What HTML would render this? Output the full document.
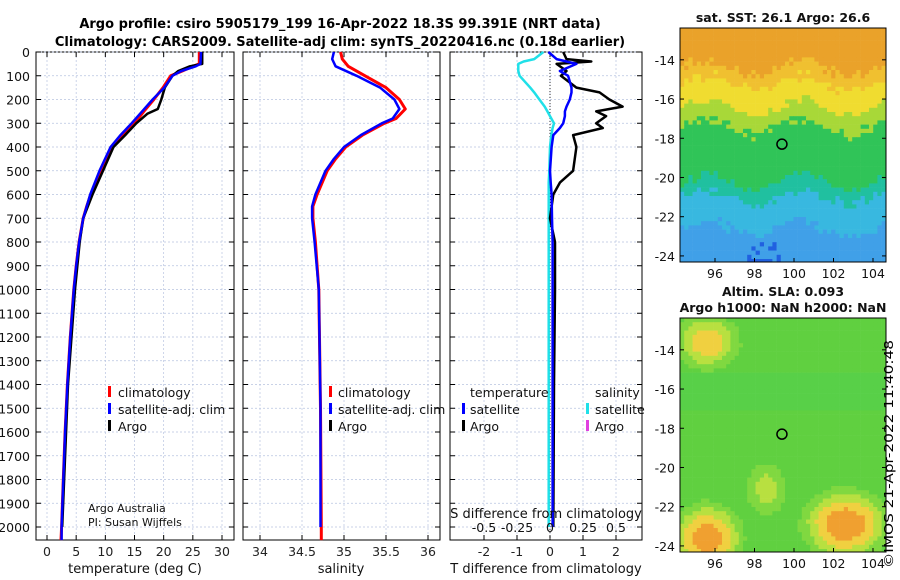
<!DOCTYPE html>
<html><head><meta charset="utf-8"><style>
body{margin:0;background:#fff}
svg{display:block;font-family:"DejaVu Sans","Liberation Sans",sans-serif}
</style></head><body>
<svg id="c" width="900" height="580" viewBox="0 0 900 580">
<defs>
<clipPath id="cp1"><rect x="680" y="28" width="206" height="234"/></clipPath>
<clipPath id="cp2"><rect x="680" y="318" width="206" height="234"/></clipPath>
</defs>
<text x="340" y="28" text-anchor="middle" font-size="13" font-weight="bold">Argo profile: csiro 5905179_199 16-Apr-2022 18.3S 99.391E (NRT data)</text>
<text x="340" y="46" text-anchor="middle" font-size="13" font-weight="bold">Climatology: CARS2009. Satellite-adj clim: synTS_20220416.nc (0.18d earlier)</text>
<g id="g"></g>
<text transform="translate(893,568) rotate(-90)" font-size="12.5" textLength="228" lengthAdjust="spacingAndGlyphs">©IMOS 21-Apr-2022 11:40:48</text>
</svg>
<script>
// ---- data ----
const tDepth=[0,50,60,80,100,150,200,250,300,350,400,500,600,650,700,800,900,1000,1200,1400,1600,1800,2000,2055];
const tClim=[26.1,26.1,25,23.2,21.2,19.9,18.3,16.6,15.0,12.8,11.0,9.2,7.5,6.8,6.2,5.5,5.0,4.6,4.0,3.5,3.1,2.8,2.5,2.4];
const tSat=[26.4,26.3,25.5,23,21.5,20.1,18.1,16.3,14.5,12.6,10.9,9.0,7.4,6.8,6.2,5.5,5.0,4.6,4.0,3.5,3.1,2.8,2.5,2.5];
const argoDepth=[0,50,60,80,100,150,200,240,260,300,350,400,500,600,700,800,1000,1400,2000];
const tArgo=[26.6,26.6,24.5,22.5,21.5,20.2,19.6,19.0,17.2,15.3,13.4,11.4,9.6,7.8,6.2,5.6,4.8,3.6,2.6];
const sDepth=[0,30,60,100,150,200,240,280,300,350,400,450,500,600,650,700,800,1000,1500,2000,2055];
const sClim=[34.96,34.98,35.05,35.25,35.5,35.66,35.73,35.62,35.48,35.22,35.02,34.9,34.8,34.68,34.63,34.63,34.66,34.7,34.72,34.73,34.73];
const sSat=[34.88,34.86,34.9,35.15,35.43,35.6,35.66,35.58,35.45,35.2,35.0,34.88,34.78,34.66,34.62,34.62,34.65,34.7,34.72,34.72,34.72];
const dDepth=[0,30,40,50,80,100,150,170,200,230,250,270,300,320,350,400,500,550,600,700,800,1000,1400,2000];
const dtArgo=[0.4,0.5,1.25,0.2,0.5,0.33,0.8,1.5,1.8,2.2,1.4,1.7,1.4,1.6,0.7,0.8,0.7,0.3,0.1,0.0,0.15,0.15,0.12,0.1];
const dtSat=[-0.05,0.2,0.5,0.8,0.3,0.55,0.65,0.65,0.6,0.5,0.45,0.45,0.4,0.3,0.1,0.05,0.0,0.02,0.05,0.06,0.08,0.08,0.08,0.08];
const dsSat=[-0.05,-0.12,-0.2,-0.24,-0.24,-0.23,-0.15,-0.12,-0.08,-0.04,-0.02,0.0,0.03,0.02,0.01,0.0,-0.005,-0.01,-0.01,-0.01,-0.01,-0.01,-0.01,-0.01];
const tTicks=[0,5,10,15,20,25,30];
const sTicks=[34,34.5,35,35.5,36];
const dtTicks=[-2,-1,0,1,2];
const dsTicks=[-0.5,-0.25,0,0.25,0.5];
const sdLabels=['-0.5','-0.25','0','0.25','0.5'];
const depthTicks=[0,100,200,300,400,500,600,700,800,900,1000,1100,1200,1300,1400,1500,1600,1700,1800,1900,2000];
const latTicks=[-14,-16,-18,-20,-22,-24];
const lonTicks=[96,98,100,102,104];
// ---- helpers ----
const NS='http://www.w3.org/2000/svg',G=document.getElementById('g');
function mk(t,a,p){const e=document.createElementNS(NS,t);for(const k in a)e.setAttribute(k,a[k]);(p||G).appendChild(e);return e;}
const top0=52,bot=540;
const yD=d=>top0+d*(527-52)/2000;
function lin(d0,d1,p0,p1){return v=>p0+(v-d0)*(p1-p0)/(d1-d0);}
function panel(x0,x1,name){
  const r=mk('rect',{x:x0,y:top0,width:x1-x0,height:bot-top0,fill:'#fff',stroke:'#000','stroke-width':1});
  
  
  depthTicks.forEach(d=>{
    const y=yD(d);
    const l=mk('line',{x1:x0,x2:x1,y1:y,y2:y,stroke:'#b8c4e0','stroke-width':0.7,'stroke-dasharray':'2,2'});
    
    
    mk('line',{x1:x0,x2:x0+5,y1:y,y2:y,stroke:'#000'});
    mk('line',{x1:x1-5,x2:x1,y1:y,y2:y,stroke:'#000'});
  });
}
function xticks(x0,x1,ticks,sc,labels,y,name){
  ticks.forEach((v,i)=>{const x=sc(v);
    const l=mk('line',{x1:x,x2:x,y1:top0,y2:bot,stroke:'#b8c4e0','stroke-width':0.7,'stroke-dasharray':'2,2'});
    
    
    mk('line',{x1:x,x2:x,y1:bot,y2:bot-5,stroke:'#000'});mk('line',{x1:x,x2:x,y1:top0,y2:top0+5,stroke:'#000'});
    const t=mk('text',{x:x,y:y,'text-anchor':'middle','font-size':12.5,fill:'#222'});t.textContent=labels?labels[i]:String(v);
    
    
  });
}
function line(xs,ds,sc,col,w,name){
  const pts=xs.map((v,i)=>sc(v).toFixed(1)+','+yD(ds[i]).toFixed(1)).join(' ');
  const p=mk('polyline',{points:pts,fill:'none',stroke:col,'stroke-width':w,'stroke-linejoin':'round'});
  
  
}
function txt(x,y,s,fs,name,anchor){const t=mk('text',{x:x,y:y,'font-size':fs,'text-anchor':anchor||'start',fill:'#111'});t.textContent=s;
  
  return t;}
function legMark(x,y,col,name){const r=mk('rect',{x:x,y:y-10,width:3,height:11,fill:col});
  
  }
// Panel 1 temperature
const xT=lin(0,30,47,222);
panel(36,234,'temperature-panel');
xticks(36,234,tTicks,xT,null,556,'temperature-tick');
depthTicks.forEach(d=>{const t=txt(30,yD(d)+5,String(d),12.5,'depth-tick','end');});
line(tClim,tDepth,xT,'#f00',3,'temperature-climatology-line');
line(tArgo,argoDepth,xT,'#000',2.5,'temperature-argo-line');
line(tSat,tDepth,xT,'#00f',2.5,'temperature-satellite-line');
txt(135,573,'temperature (deg C)',13,'temperature-axis-title','middle');
legMark(108,396,'#f00','legend-climatology-marker');txt(118,397,'climatology',12.5,'legend-climatology');
legMark(108,413,'#00f','legend-satellite-marker');txt(118,414,'satellite-adj. clim',12.5,'legend-satellite');
legMark(108,430,'#000','legend-argo-marker');txt(118,431,'Argo',12.5,'legend-argo');
txt(88,512,'Argo Australia',11,'credit-line-1');txt(88,526,'PI: Susan Wijffels',11,'credit-line-2');
// Panel 2 salinity
const xS=lin(34,36,260,428);
panel(243,440,'salinity-panel');
xticks(243,440,sTicks,xS,['34','34.5','35','35.5','36'],556,'salinity-tick');
line(sClim,sDepth,xS,'#f00',3,'salinity-climatology-line');
line(sSat,sDepth.map(d=>Math.min(d,2000)),xS,'#00f',2.5,'salinity-satellite-line');
txt(341,573,'salinity',13,'salinity-axis-title','middle');
legMark(329,396,'#f00','legend2-climatology-marker');txt(338,397,'climatology',12.5,'legend2-climatology');
legMark(329,413,'#00f','legend2-satellite-marker');txt(338,414,'satellite-adj. clim',12.5,'legend2-satellite');
legMark(329,430,'#000','legend2-argo-marker');txt(338,431,'Argo',12.5,'legend2-argo');
// Panel 3 differences
const xDT=lin(-2,2,484,616), xDS=lin(-0.5,0.5,484,616);
panel(450,642,'difference-panel');
xticks(450,642,dtTicks,xDT,null,556,'t-diff-tick');
const z=mk('line',{x1:xDT(0),x2:xDT(0),y1:top0,y2:bot,stroke:'#333','stroke-width':1,'stroke-dasharray':'1,2'});


line(dsSat,dDepth.map(d=>Math.min(d,2000)),xDS,'#20e0e8',2.5,'s-diff-satellite-line');
line(dtArgo,dDepth,xDT,'#000',2.5,'t-diff-argo-line');
line(dtSat,dDepth,xDT,'#00f',2.5,'t-diff-satellite-line');
dsTicks.forEach((v,i)=>txt(xDS(v),532,sdLabels[i],12.5,'s-diff-tick','middle'));
txt(546,518,'S difference from climatology',13,'s-diff-axis-title','middle');
txt(546,573,'T difference from climatology',13,'t-diff-axis-title','middle');
txt(470,397,'temperature',12.5,'legend3-temperature-header');
legMark(462,413,'#00f','legend3-t-satellite-marker');txt(470,414,'satellite',12.5,'legend3-t-satellite');
legMark(462,430,'#000','legend3-t-argo-marker');txt(470,431,'Argo',12.5,'legend3-t-argo');
txt(595,397,'salinity',12.5,'legend3-salinity-header');
legMark(586,413,'#20e0e8','legend3-s-satellite-marker');txt(595,414,'satellite',12.5,'legend3-s-satellite');
legMark(586,430,'#e040e0','legend3-s-argo-marker');txt(595,431,'Argo',12.5,'legend3-s-argo');
// ---- maps ----
function hash(i,j){let h=(i*374761393+j*668265263)^0x5bd1e995;h=(h^(h>>13))*1274126177;return ((h^(h>>16))>>>0)/4294967296;}
function mapPanel(y0,y1,colorFn,name,titles,clip){
  const x0=680,x1=886,lat=lin(-14,-24,y0+(y1-y0)*0.136,y0+(y1-y0)*0.974),lon=lin(96,104,715,873);
  const g=mk('g',{'clip-path':'url(#'+clip+')'});
  
  
  const n=4.2;
  for(let yy=y0,i=0;yy<y1;yy+=n,i++)for(let xx=x0,j=0;xx<x1;xx+=n,j++){
    const la=-14+(yy-lat(-14))/(lat(-24)-lat(-14))*-10, lo=96+(xx-715)/(873-715)*8;
    mk('rect',{x:xx,y:yy,width:n+0.3,height:n+0.3,fill:colorFn(la,lo,hash(i,j))},g);
  }
  mk('rect',{x:x0,y:y0,width:x1-x0,height:y1-y0,fill:'none',stroke:'#000'});
  latTicks.forEach(v=>{const y=lat(v);mk('line',{x1:x0,x2:x0+4,y1:y,y2:y,stroke:'#000'});mk('line',{x1:x1-4,x2:x1,y1:y,y2:y,stroke:'#000'});txt(675,y+5,String(v),12.5,'lat-tick','end');});
  lonTicks.forEach(v=>{const x=lon(v);mk('line',{x1:x,x2:x,y1:y1,y2:y1-4,stroke:'#000'});txt(x,y1+16,String(v),12.5,'lon-tick','middle');});
  const c=mk('circle',{cx:lon(99.39),cy:lat(-18.3),r:5,fill:'none',stroke:'#000','stroke-width':1.5});
  
  
  titles.forEach((t,k)=>{const e=txt(783,y0-(titles.length-k-1)*16-6,t,12.5,'map-title','middle');e.setAttribute('font-weight','bold');});
}
function sst(la,lo,r){
  const v=la+ (r-0.5)*1.2 + Math.sin(lo*1.3)*0.4;
  if(la<-23.2&&lo>97.5&&lo<99.5&&r>0.3)return '#2060e0';
  if(v>-14.6)return r>0.5?'#e89a30':'#eaa22a';
  if(v>-15.4)return '#f0c030';
  if(v>-16.6)return r>0.7?'#b0d840':'#f0dc30';
  if(v>-17.6)return r>0.5?'#70d040':'#a8d838';
  if(v>-20.4)return r>0.6?'#28c060':'#30c458';
  if(v>-21.2)return '#20c0a0';
  if(v>-22.8)return r>0.5?'#30c0d8':'#38b8e0';
  return '#40a0e8';
}
function sla(la,lo,r){
  const b1=Math.exp(-((la+23.5)**2/2+(lo-95.5)**2/2)), b2=Math.exp(-((la+22.8)**2/2+(lo-102.5)**2/3));
  const b3=Math.exp(-((la+13.5)**2/1.5+(lo-95.5)**2/2)), b4=Math.exp(-((la+21)**2/2+(lo-98.5)**2/1))*0.4;
  const v=Math.max(b1,b2*1.05,b3*0.7,b4)+(r-0.5)*0.05;
  if(v>0.75)return '#f0a030';
  if(v>0.5)return '#f0d040';
  if(v>0.3)return '#b8e040';
  if(v>0.15)return '#80d840';
  return la>-17&&la<-15?'#58d048':'#60d040';
}
mapPanel(28,262,sst,'sst-map',['sat. SST: 26.1 Argo: 26.6'],'cp1');
mapPanel(318,552,sla,'sla-map',['Altim. SLA: 0.093','Argo h1000: NaN h2000: NaN'],'cp2');
</script>
</body></html>
